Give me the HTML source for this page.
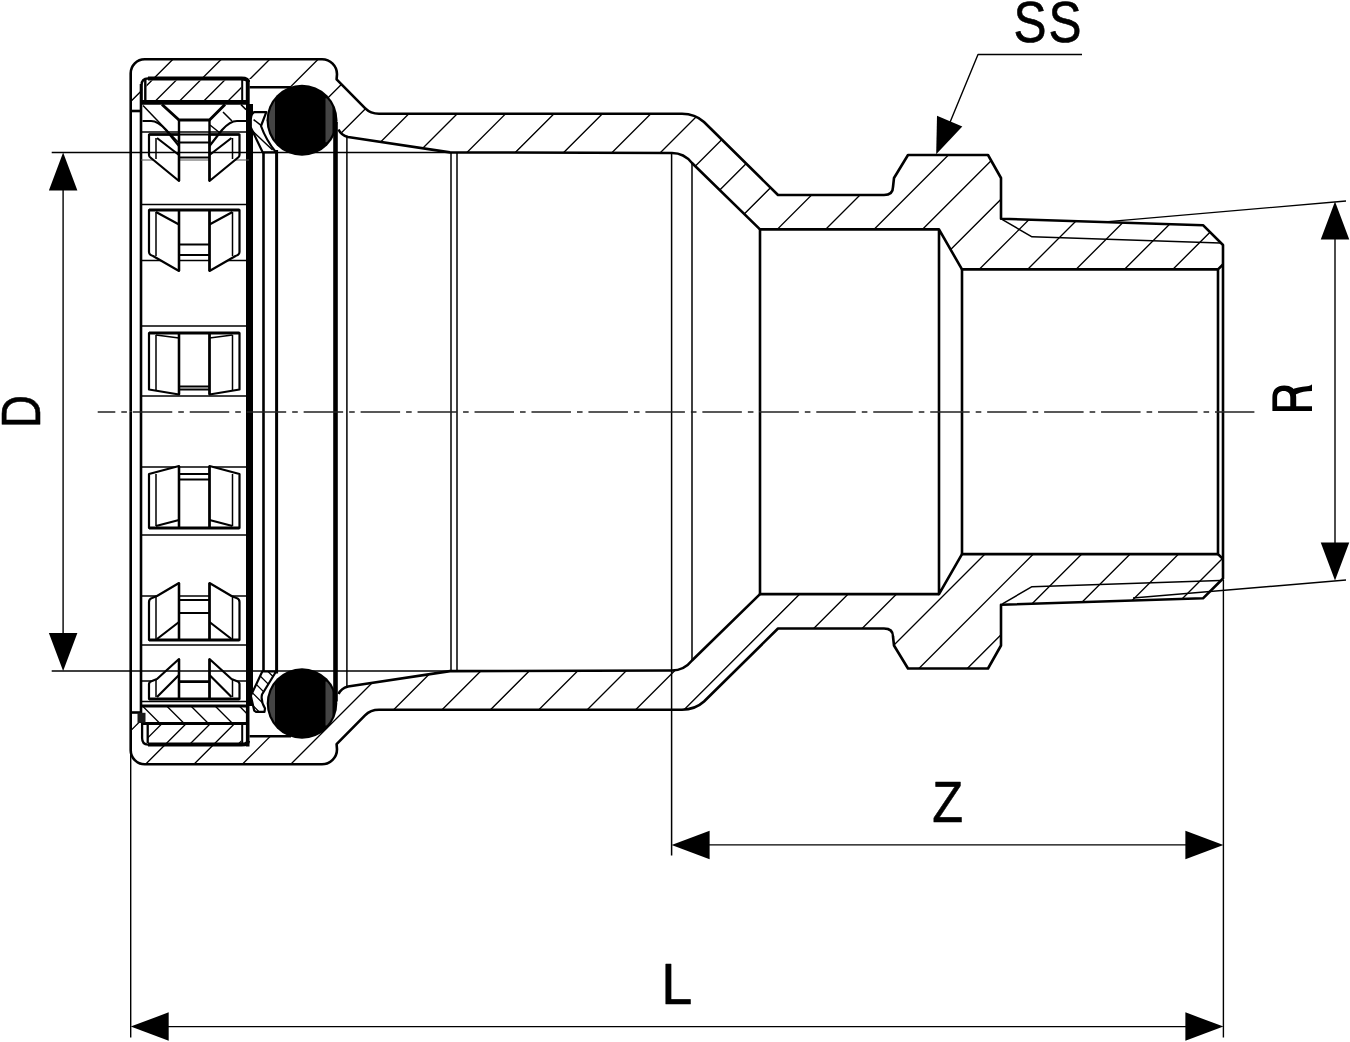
<!DOCTYPE html><html><head><meta charset="utf-8"><style>html,body{margin:0;padding:0;background:#fff;width:1350px;height:1042px;overflow:hidden}text{font-family:"Liberation Sans",sans-serif}</style></head><body><svg width="1350" height="1042" viewBox="0 0 1350 1042" style="display:block" stroke="#000" stroke-linecap="butt" stroke-linejoin="round"><defs><clipPath id="c1"><path d="M130.7 111 L130.7 73.2 A14 14 0 0 1 144.7 59.2 L322 59.2 A15 15 0 0 1 337 74.2 L336.6 79.3 L365 108.2 Q370.5 113.8 379 113.8 L682 113.8 Q695 113.8 704 122 L778 195 L884 195 Q893 195 893 187 L894 178 L908 155 L988 155 L1001 178 L1001 218.7 L1203 225.2 L1223 245 L1223 264.5 L1218 269.4 L962 269.4 L939 229.4 L760 229.4 L692 163 Q684 153 672 153 L450 152.4 L348 137 Q341 135 338.5 129.5 L337 120 L291 87.3 L252 87.3 L252 79 L148 78 L142.5 84 L141 111 Z"/></clipPath><clipPath id="c2"><path d="M130.7 712.5 L130.7 750.3 A14 14 0 0 0 144.7 764.3 L322 764.3 A15 15 0 0 0 337 749.3 L336.6 744.2 L365 715.3 Q370.5 709.7 379 709.7 L682 709.7 Q695 709.7 704 701.5 L778 628.5 L884 628.5 Q893 628.5 893 636.5 L894 645.5 L908 668.5 L988 668.5 L1001 645.5 L1001 604.8 L1203 598.3 L1223 578.5 L1223 559.0 L1218 554.1 L962 554.1 L939 594.1 L760 594.1 L692 660.5 Q684 670.5 672 670.5 L450 671.1 L348 686.5 Q341 688.5 338.5 694.0 L337 703.5 L291 736.2 L252 736.2 L252 744.5 L148 745.5 L142.5 739.5 L141 712.5 Z"/></clipPath><clipPath id="c3"><path d="M146.6 100 L146.6 80.5 L241.3 80.5 L241.3 100 Z"/></clipPath><clipPath id="oc120"><circle cx="302" cy="120.3" r="33.3"/></clipPath><clipPath id="oc703"><circle cx="302" cy="703.5" r="33.099999999999994"/></clipPath><clipPath id="c4"><path d="M262.3 671.5 L276.1 671.5 L262 694.5 Q260.5 701 265 708.4 L264.5 711.8 L256 711.8 L254.2 710.6 L250.8 695.7 Z"/></clipPath><clipPath id="c5"><path d="M141 706 L247 706 L247 723.5 L141 723.5 Z"/></clipPath><clipPath id="c6"><path d="M147.7 725 L241.3 725 L241.3 743 L147.7 743 Z"/></clipPath></defs><rect width="1350" height="1042" fill="#fff" stroke="none"/><path clip-path="url(#c1)" d="M95.40 40L-654.60 790M143.80 40L-606.20 790M192.20 40L-557.80 790M240.60 40L-509.40 790M289.00 40L-461.00 790M337.40 40L-412.60 790M385.80 40L-364.20 790M434.20 40L-315.80 790M482.60 40L-267.40 790M531.00 40L-219.00 790M579.40 40L-170.60 790M627.80 40L-122.20 790M676.20 40L-73.80 790M724.60 40L-25.40 790M773.00 40L23.00 790M821.40 40L71.40 790M869.80 40L119.80 790M918.20 40L168.20 790M966.60 40L216.60 790M1015.00 40L265.00 790M1063.40 40L313.40 790M1111.80 40L361.80 790M1160.20 40L410.20 790M1208.60 40L458.60 790M1257.00 40L507.00 790M1305.40 40L555.40 790M1353.80 40L603.80 790M1402.20 40L652.20 790M1450.60 40L700.60 790M1499.00 40L749.00 790M1547.40 40L797.40 790M1595.80 40L845.80 790M1644.20 40L894.20 790M1692.60 40L942.60 790M1741.00 40L991.00 790M1789.40 40L1039.40 790M1837.80 40L1087.80 790M1886.20 40L1136.20 790M1934.60 40L1184.60 790M1983.00 40L1233.00 790M2031.40 40L1281.40 790" stroke-width="1.35" fill="none"/>
<path clip-path="url(#c2)" d="M95.40 40L-654.60 790M143.80 40L-606.20 790M192.20 40L-557.80 790M240.60 40L-509.40 790M289.00 40L-461.00 790M337.40 40L-412.60 790M385.80 40L-364.20 790M434.20 40L-315.80 790M482.60 40L-267.40 790M531.00 40L-219.00 790M579.40 40L-170.60 790M627.80 40L-122.20 790M676.20 40L-73.80 790M724.60 40L-25.40 790M773.00 40L23.00 790M821.40 40L71.40 790M869.80 40L119.80 790M918.20 40L168.20 790M966.60 40L216.60 790M1015.00 40L265.00 790M1063.40 40L313.40 790M1111.80 40L361.80 790M1160.20 40L410.20 790M1208.60 40L458.60 790M1257.00 40L507.00 790M1305.40 40L555.40 790M1353.80 40L603.80 790M1402.20 40L652.20 790M1450.60 40L700.60 790M1499.00 40L749.00 790M1547.40 40L797.40 790M1595.80 40L845.80 790M1644.20 40L894.20 790M1692.60 40L942.60 790M1741.00 40L991.00 790M1789.40 40L1039.40 790M1837.80 40L1087.80 790M1886.20 40L1136.20 790M1934.60 40L1184.60 790M1983.00 40L1233.00 790M2031.40 40L1281.40 790" stroke-width="1.35" fill="none"/>
<path d="M130.7 411.75 L130.7 73.2 A14 14 0 0 1 144.7 59.2 L322 59.2 A15 15 0 0 1 337 74.2 L336.6 79.3 L365 108.2 Q370.5 113.8 379 113.8 L682 113.8 Q695 113.8 704 122 L778 195 L884 195 Q893 195 893 187 L894 178 L908 155 L988 155 L1001 178 L1001 218.7 L1203 225.2 L1223 245 L1223 411.75" stroke-width="2.6" fill="none" />
<path d="M1218 411.75 L1218 269.4 L1223 264.5" stroke-width="2.6" fill="none" />
<path d="M962 411.75 L962 269.4 L1218 269.4" stroke-width="2.6" fill="none" />
<path d="M939 411.75 L939 229.4 L962 269.4" stroke-width="2.6" fill="none" />
<path d="M760 411.75 L760 229.4 L939 229.4" stroke-width="2.6" fill="none" />
<path d="M760 229.4 L692 163 Q684 153 672 153 L450 152.4 L348 137 Q341 135 338.5 129.5" stroke-width="2.6" fill="none" />
<path d="M249.5 87.3 L291 87.3" stroke-width="2.6" fill="none" />
<path d="M130.7 111 L141 111" stroke-width="2.6" fill="none" />
<path d="M1002.4 219.7 L1032 236.8 L1220 243" stroke-width="1.5" fill="none" />
<path d="M130.7 411.75 L130.7 750.3 A14 14 0 0 0 144.7 764.3 L322 764.3 A15 15 0 0 0 337 749.3 L336.6 744.2 L365 715.3 Q370.5 709.7 379 709.7 L682 709.7 Q695 709.7 704 701.5 L778 628.5 L884 628.5 Q893 628.5 893 636.5 L894 645.5 L908 668.5 L988 668.5 L1001 645.5 L1001 604.8 L1203 598.3 L1223 578.5 L1223 411.75" stroke-width="2.6" fill="none" />
<path d="M1218 411.75 L1218 554.1 L1223 559.0" stroke-width="2.6" fill="none" />
<path d="M962 411.75 L962 554.1 L1218 554.1" stroke-width="2.6" fill="none" />
<path d="M939 411.75 L939 594.1 L962 554.1" stroke-width="2.6" fill="none" />
<path d="M760 411.75 L760 594.1 L939 594.1" stroke-width="2.6" fill="none" />
<path d="M760 594.1 L692 660.5 Q684 670.5 672 670.5 L450 671.1 L348 686.5 Q341 688.5 338.5 694.0" stroke-width="2.6" fill="none" />
<path d="M249.5 736.2 L291 736.2" stroke-width="2.6" fill="none" />
<path d="M130.7 712.5 L141 712.5" stroke-width="2.6" fill="none" />
<path d="M1002.4 603.8 L1032 586.7 L1220 580.5" stroke-width="1.5" fill="none" />
<line x1="451" y1="152.4" x2="451" y2="671.1" stroke-width="1.5" />
<line x1="457" y1="152.4" x2="457" y2="671.1" stroke-width="1.5" />
<line x1="692" y1="163" x2="692" y2="660.5" stroke-width="1.5" />
<line x1="671.6" y1="153" x2="671.6" y2="855.6" stroke-width="1.5" />
<line x1="346.9" y1="137" x2="346.9" y2="686.5" stroke-width="1.5" />
<line x1="335.5" y1="122" x2="335.5" y2="701.5" stroke-width="4.6" />
<line x1="263.5" y1="150" x2="263.5" y2="673.5" stroke-width="2.6" />
<line x1="276.6" y1="150" x2="276.6" y2="673.5" stroke-width="3.0" />
<rect x="246" y="104" width="7" height="602" fill="#000" stroke="none"/>
<rect x="245.8" y="80" width="3.9" height="24" fill="#000" stroke="none"/>
<rect x="245.9" y="706" width="3.6" height="40.5" fill="#000" stroke="none"/>
<line x1="141" y1="84" x2="141" y2="723" stroke-width="2.6" />
<path clip-path="url(#c3)" d="M119.60 40L-630.40 790M143.80 40L-606.20 790M168.00 40L-582.00 790M192.20 40L-557.80 790M216.40 40L-533.60 790M240.60 40L-509.40 790M264.80 40L-485.20 790M289.00 40L-461.00 790M313.20 40L-436.80 790M337.40 40L-412.60 790M361.60 40L-388.40 790M385.80 40L-364.20 790M410.00 40L-340.00 790M434.20 40L-315.80 790M458.40 40L-291.60 790M482.60 40L-267.40 790M506.80 40L-243.20 790M531.00 40L-219.00 790M555.20 40L-194.80 790M579.40 40L-170.60 790M603.60 40L-146.40 790M627.80 40L-122.20 790M652.00 40L-98.00 790M676.20 40L-73.80 790M700.40 40L-49.60 790M724.60 40L-25.40 790M748.80 40L-1.20 790M773.00 40L23.00 790M797.20 40L47.20 790M821.40 40L71.40 790M845.60 40L95.60 790M869.80 40L119.80 790M894.00 40L144.00 790M918.20 40L168.20 790M942.40 40L192.40 790M966.60 40L216.60 790M990.80 40L240.80 790M1015.00 40L265.00 790M1039.20 40L289.20 790M1063.40 40L313.40 790M1087.60 40L337.60 790M1111.80 40L361.80 790M1136.00 40L386.00 790M1160.20 40L410.20 790M1184.40 40L434.40 790M1208.60 40L458.60 790M1232.80 40L482.80 790M1257.00 40L507.00 790M1281.20 40L531.20 790M1305.40 40L555.40 790M1329.60 40L579.60 790M1353.80 40L603.80 790M1378.00 40L628.00 790M1402.20 40L652.20 790M1426.40 40L676.40 790M1450.60 40L700.60 790M1474.80 40L724.80 790M1499.00 40L749.00 790M1523.20 40L773.20 790M1547.40 40L797.40 790M1571.60 40L821.60 790M1595.80 40L845.80 790M1620.00 40L870.00 790M1644.20 40L894.20 790M1668.40 40L918.40 790M1692.60 40L942.60 790M1716.80 40L966.80 790M1741.00 40L991.00 790M1765.20 40L1015.20 790M1789.40 40L1039.40 790M1813.60 40L1063.60 790M1837.80 40L1087.80 790M1862.00 40L1112.00 790M1886.20 40L1136.20 790M1910.40 40L1160.40 790M1934.60 40L1184.60 790M1958.80 40L1208.80 790M1983.00 40L1233.00 790M2007.20 40L1257.20 790" stroke-width="1.35" fill="none"/>
<path d="M141 102.3 L248 102.3" stroke-width="4.7" fill="none" />
<path d="M148 78.5 L241.5 78.5 Q248 78.5 248 82" stroke-width="4.0" fill="none" />
<path d="M141.6 104 L141.6 85 Q141.6 78.5 148 78.5" stroke-width="2.3" fill="none" />
<line x1="145.3" y1="80" x2="145.3" y2="100" stroke-width="2.4" />
<line x1="242.2" y1="80" x2="242.2" y2="100" stroke-width="2.0" />
<circle cx="302" cy="120.3" r="35.5" fill="#000" stroke="none"/>
<rect x="268.5" y="98.3" width="6.5" height="44" fill="#444" stroke="none" clip-path="url(#oc120)"/>
<rect x="325.5" y="98.3" width="7" height="44" fill="#444" stroke="none" clip-path="url(#oc120)"/>
<circle cx="302" cy="703.5" r="35.3" fill="#000" stroke="none"/>
<rect x="268.5" y="681.5" width="6.5" height="44" fill="#444" stroke="none" clip-path="url(#oc703)"/>
<rect x="325.5" y="681.5" width="7" height="44" fill="#444" stroke="none" clip-path="url(#oc703)"/>
<path d="M254.2 112.1 L266.3 112.1 L261 126 Q266 140 276.1 152.4 L262.8 152.4 L250.8 127.6 L250.8 119 Q251.5 113 254.2 112.1 Z" stroke-width="2.2" fill="#fff" />
<path d="M252.5 131 L272.6 150" stroke-width="1.5" fill="none" />
<path d="M253.6 119.6 L261 125.3" stroke-width="1.5" fill="none" />
<path d="M262.3 671.5 L276.1 671.5 L262 694.5 Q260.5 701 265 708.4 L264.5 711.8 L256 711.8 L254.2 710.6 L250.8 695.7 Z" fill="#fff" stroke="none"/>
<path clip-path="url(#c4)" d="M-634.10 40L115.90 790M-621.80 40L128.20 790M-609.50 40L140.50 790M-597.20 40L152.80 790M-584.90 40L165.10 790M-572.60 40L177.40 790M-560.30 40L189.70 790M-548.00 40L202.00 790M-535.70 40L214.30 790M-523.40 40L226.60 790M-511.10 40L238.90 790M-498.80 40L251.20 790M-486.50 40L263.50 790M-474.20 40L275.80 790M-461.90 40L288.10 790M-449.60 40L300.40 790M-437.30 40L312.70 790M-425.00 40L325.00 790M-412.70 40L337.30 790M-400.40 40L349.60 790M-388.10 40L361.90 790M-375.80 40L374.20 790M-363.50 40L386.50 790M-351.20 40L398.80 790M-338.90 40L411.10 790M-326.60 40L423.40 790M-314.30 40L435.70 790M-302.00 40L448.00 790M-289.70 40L460.30 790M-277.40 40L472.60 790M-265.10 40L484.90 790M-252.80 40L497.20 790M-240.50 40L509.50 790M-228.20 40L521.80 790M-215.90 40L534.10 790M-203.60 40L546.40 790M-191.30 40L558.70 790M-179.00 40L571.00 790M-166.70 40L583.30 790M-154.40 40L595.60 790M-142.10 40L607.90 790M-129.80 40L620.20 790M-117.50 40L632.50 790M-105.20 40L644.80 790M-92.90 40L657.10 790M-80.60 40L669.40 790M-68.30 40L681.70 790M-56.00 40L694.00 790M-43.70 40L706.30 790M-31.40 40L718.60 790M-19.10 40L730.90 790M-6.80 40L743.20 790M5.50 40L755.50 790M17.80 40L767.80 790M30.10 40L780.10 790M42.40 40L792.40 790M54.70 40L804.70 790M67.00 40L817.00 790M79.30 40L829.30 790M91.60 40L841.60 790M103.90 40L853.90 790M116.20 40L866.20 790M128.50 40L878.50 790M140.80 40L890.80 790M153.10 40L903.10 790M165.40 40L915.40 790M177.70 40L927.70 790M190.00 40L940.00 790M202.30 40L952.30 790M214.60 40L964.60 790M226.90 40L976.90 790M239.20 40L989.20 790M251.50 40L1001.50 790M263.80 40L1013.80 790M276.10 40L1026.10 790M288.40 40L1038.40 790M300.70 40L1050.70 790M313.00 40L1063.00 790M325.30 40L1075.30 790M337.60 40L1087.60 790M349.90 40L1099.90 790M362.20 40L1112.20 790M374.50 40L1124.50 790M386.80 40L1136.80 790M399.10 40L1149.10 790M411.40 40L1161.40 790M423.70 40L1173.70 790M436.00 40L1186.00 790M448.30 40L1198.30 790M460.60 40L1210.60 790M472.90 40L1222.90 790M485.20 40L1235.20 790M497.50 40L1247.50 790M509.80 40L1259.80 790M522.10 40L1272.10 790M534.40 40L1284.40 790M546.70 40L1296.70 790M559.00 40L1309.00 790M571.30 40L1321.30 790M583.60 40L1333.60 790M595.90 40L1345.90 790M608.20 40L1358.20 790M620.50 40L1370.50 790M632.80 40L1382.80 790M645.10 40L1395.10 790M657.40 40L1407.40 790M669.70 40L1419.70 790M682.00 40L1432.00 790M694.30 40L1444.30 790M706.60 40L1456.60 790M718.90 40L1468.90 790M731.20 40L1481.20 790M743.50 40L1493.50 790M755.80 40L1505.80 790M768.10 40L1518.10 790M780.40 40L1530.40 790M792.70 40L1542.70 790M805.00 40L1555.00 790M817.30 40L1567.30 790M829.60 40L1579.60 790M841.90 40L1591.90 790M854.20 40L1604.20 790M866.50 40L1616.50 790M878.80 40L1628.80 790M891.10 40L1641.10 790M903.40 40L1653.40 790M915.70 40L1665.70 790M928.00 40L1678.00 790M940.30 40L1690.30 790M952.60 40L1702.60 790M964.90 40L1714.90 790M977.20 40L1727.20 790M989.50 40L1739.50 790M1001.80 40L1751.80 790M1014.10 40L1764.10 790M1026.40 40L1776.40 790M1038.70 40L1788.70 790M1051.00 40L1801.00 790M1063.30 40L1813.30 790M1075.60 40L1825.60 790M1087.90 40L1837.90 790M1100.20 40L1850.20 790M1112.50 40L1862.50 790M1124.80 40L1874.80 790M1137.10 40L1887.10 790M1149.40 40L1899.40 790M1161.70 40L1911.70 790M1174.00 40L1924.00 790M1186.30 40L1936.30 790M1198.60 40L1948.60 790M1210.90 40L1960.90 790M1223.20 40L1973.20 790M1235.50 40L1985.50 790M1247.80 40L1997.80 790" stroke-width="1.3" fill="none"/>
<path d="M262.3 671.5 L276.1 671.5 L262 694.5 Q260.5 701 265 708.4 L264.5 711.8 L256 711.8 L254.2 710.6 L250.8 695.7 Z" stroke-width="2.2" fill="none" />
<line x1="141" y1="132" x2="249" y2="132" stroke-width="1.5" />
<line x1="141" y1="204.5" x2="249" y2="204.5" stroke-width="1.5" />
<line x1="141" y1="260.5" x2="249" y2="260.5" stroke-width="1.5" />
<line x1="141" y1="326" x2="249" y2="326" stroke-width="1.5" />
<line x1="141" y1="396" x2="249" y2="396" stroke-width="1.5" />
<line x1="141" y1="467" x2="249" y2="467" stroke-width="1.5" />
<line x1="141" y1="535" x2="249" y2="535" stroke-width="1.5" />
<line x1="141" y1="596" x2="249" y2="596" stroke-width="1.5" />
<line x1="141" y1="645" x2="249" y2="645" stroke-width="1.5" />
<line x1="141" y1="681" x2="249" y2="681" stroke-width="1.5" />
<line x1="141" y1="701.5" x2="249" y2="701.5" stroke-width="1.5" />
<line x1="141" y1="160" x2="249" y2="160" stroke-width="1.0" stroke="#555"/>
<path d="M149 134.5 L179 134.5 L179 181 L151 158 Q149 157 149 155 Z" stroke-width="2.2" fill="#fff" />
<path d="M 239.5 134.5 L 209.5 134.5 L 209.5 181 L 237.5 158 Q 239.5 157 239.5 155 Z" stroke-width="2.2" fill="#fff" />
<path d="M156 138 L156 159 M 232.5 138 L 232.5 159" stroke-width="1.5" fill="none" />
<path d="M157 138 L179 155 M 231.5 138 L 209.5 155" stroke-width="2.2" fill="none" />
<path d="M162 104.5 L179 120 L209.5 120 L225 104.5" stroke-width="3.0" fill="none" />
<path d="M179 120 L179 181 M209.5 120 L209.5 181" stroke-width="2.4" fill="none" />
<path d="M149 134.5 L179 134.5 M209.5 134.5 L239.5 134.5" stroke-width="2.6" fill="none" />
<path d="M179 142.5 L209.5 142.5 M179 157.5 L209.5 157.5 M179 134.5 L209.5 134.5" stroke-width="2.0" fill="none" />
<path d="M143 105.5 L178 142" stroke-width="1.5" fill="none" />
<path d="M142.5 121 L151 121 Q158 121 166 130 L179 146 M246 121 L237 121 Q230 121 222 130 L209.5 146" stroke-width="2.2" fill="none" />
<path d="M223 112 L232 121 M210 125 L220 133 M241 104.6 L246 109.6" stroke-width="1.5" fill="none" />
<path d="M149 210 L179 210 L179 271 L153 256 Q149 255 149 252 Z" stroke-width="2.2" fill="#fff" />
<path d="M 239.5 210 L 209.5 210 L 209.5 271 L 235.5 256 Q 239.5 255 239.5 252 Z" stroke-width="2.2" fill="#fff" />
<path d="M156 212 L156 256 M 232.5 212 L 232.5 256" stroke-width="1.5" fill="none" />
<path d="M156 212 L179 224.5 M 232.5 212 L 209.5 224.5" stroke-width="2.2" fill="none" />
<path d="M149 210 L239.5 210" stroke-width="3.0" fill="none" />
<path d="M179 210 L179 271 M209.5 210 L209.5 271" stroke-width="2.4" fill="none" />
<path d="M179 244.5 L209.5 244.5 M179 255 L209.5 255" stroke-width="2.0" fill="none" />
<path d="M149 333 L179 333 L179 394.5 L149 389.5 Z" stroke-width="2.2" fill="#fff" />
<path d="M 239.5 333 L 209.5 333 L 209.5 394.5 L 239.5 389.5 Z" stroke-width="2.2" fill="#fff" />
<path d="M156 335 L156 390 M 232.5 335 L 232.5 390" stroke-width="1.5" fill="none" />
<path d="M156 335 L179 338 M 232.5 335 L 209.5 338" stroke-width="1.5" fill="none" />
<path d="M149 333 L239.5 333" stroke-width="3.0" fill="none" />
<path d="M179 333 L179 394.5 M209.5 333 L209.5 394.5" stroke-width="2.4" fill="none" />
<path d="M179 386.5 L209.5 386.5 M179 389.5 L209.5 389.5" stroke-width="2.0" fill="none" />
<path d="M149 528 L179 528 L179 466 L149 474 Z" stroke-width="2.2" fill="#fff" />
<path d="M 239.5 528 L 209.5 528 L 209.5 466 L 239.5 474 Z" stroke-width="2.2" fill="#fff" />
<path d="M156 474 L156 526 M 232.5 474 L 232.5 526" stroke-width="1.5" fill="none" />
<path d="M156 526 L179 520 M 232.5 526 L 209.5 520" stroke-width="2.2" fill="none" />
<path d="M149 528 L239.5 528" stroke-width="3.0" fill="none" />
<path d="M179 466 L179 528 M209.5 466 L209.5 528" stroke-width="2.4" fill="none" />
<path d="M179 474 L209.5 474 M179 479.5 L209.5 479.5" stroke-width="2.0" fill="none" />
<path d="M149 640 L179 640 L179 583 L157 596 L152 598 Q149 599 149 602 Z" stroke-width="2.2" fill="#fff" />
<path d="M 239.5 640 L 209.5 640 L 209.5 583 L 231.5 596 L 236.5 598 Q 239.5 599 239.5 602 Z" stroke-width="2.2" fill="#fff" />
<path d="M156 597 L156 640 M 232.5 597 L 232.5 640" stroke-width="1.5" fill="none" />
<path d="M157 639 L179 622 M 231.5 639 L 209.5 622" stroke-width="2.2" fill="none" />
<path d="M149 640 L239.5 640" stroke-width="3.0" fill="none" />
<path d="M179 583 L179 640 M209.5 583 L209.5 640" stroke-width="2.4" fill="none" />
<path d="M179 600 L209.5 600 M179 613 L209.5 613" stroke-width="2.0" fill="none" />
<path d="M149 699 L179 699 L179 659 L157 679 L152 681 Q149 682 149 684 Z" stroke-width="2.2" fill="#fff" />
<path d="M 239.5 699 L 209.5 699 L 209.5 659 L 231.5 679 L 236.5 681 Q 239.5 682 239.5 684 Z" stroke-width="2.2" fill="#fff" />
<path d="M156 680 L156 697 M 232.5 680 L 232.5 697" stroke-width="1.5" fill="none" />
<path d="M157 697 L179 675 M 231.5 697 L 209.5 675" stroke-width="2.2" fill="none" />
<path d="M149 699 L239.5 699" stroke-width="3.0" fill="none" />
<path d="M179 659 L179 699 M209.5 659 L209.5 699" stroke-width="2.4" fill="none" />
<path d="M179 682 L209.5 682" stroke-width="2.0" fill="none" />
<path clip-path="url(#c5)" d="M-644.50 40L105.50 790M-620.30 40L129.70 790M-596.10 40L153.90 790M-571.90 40L178.10 790M-547.70 40L202.30 790M-523.50 40L226.50 790M-499.30 40L250.70 790M-475.10 40L274.90 790M-450.90 40L299.10 790M-426.70 40L323.30 790M-402.50 40L347.50 790M-378.30 40L371.70 790M-354.10 40L395.90 790M-329.90 40L420.10 790M-305.70 40L444.30 790M-281.50 40L468.50 790M-257.30 40L492.70 790M-233.10 40L516.90 790M-208.90 40L541.10 790M-184.70 40L565.30 790M-160.50 40L589.50 790M-136.30 40L613.70 790M-112.10 40L637.90 790M-87.90 40L662.10 790M-63.70 40L686.30 790M-39.50 40L710.50 790M-15.30 40L734.70 790M8.90 40L758.90 790M33.10 40L783.10 790M57.30 40L807.30 790M81.50 40L831.50 790M105.70 40L855.70 790M129.90 40L879.90 790M154.10 40L904.10 790M178.30 40L928.30 790M202.50 40L952.50 790M226.70 40L976.70 790M250.90 40L1000.90 790M275.10 40L1025.10 790M299.30 40L1049.30 790M323.50 40L1073.50 790M347.70 40L1097.70 790M371.90 40L1121.90 790M396.10 40L1146.10 790M420.30 40L1170.30 790M444.50 40L1194.50 790M468.70 40L1218.70 790M492.90 40L1242.90 790M517.10 40L1267.10 790M541.30 40L1291.30 790M565.50 40L1315.50 790M589.70 40L1339.70 790M613.90 40L1363.90 790M638.10 40L1388.10 790M662.30 40L1412.30 790M686.50 40L1436.50 790M710.70 40L1460.70 790M734.90 40L1484.90 790M759.10 40L1509.10 790M783.30 40L1533.30 790M807.50 40L1557.50 790M831.70 40L1581.70 790M855.90 40L1605.90 790M880.10 40L1630.10 790M904.30 40L1654.30 790M928.50 40L1678.50 790M952.70 40L1702.70 790M976.90 40L1726.90 790M1001.10 40L1751.10 790M1025.30 40L1775.30 790M1049.50 40L1799.50 790M1073.70 40L1823.70 790M1097.90 40L1847.90 790M1122.10 40L1872.10 790M1146.30 40L1896.30 790M1170.50 40L1920.50 790M1194.70 40L1944.70 790M1218.90 40L1968.90 790M1243.10 40L1993.10 790" stroke-width="1.35" fill="none"/>
<path d="M141 706 L249 706" stroke-width="3.0" fill="none" />
<path clip-path="url(#c6)" d="M119.60 40L-630.40 790M143.80 40L-606.20 790M168.00 40L-582.00 790M192.20 40L-557.80 790M216.40 40L-533.60 790M240.60 40L-509.40 790M264.80 40L-485.20 790M289.00 40L-461.00 790M313.20 40L-436.80 790M337.40 40L-412.60 790M361.60 40L-388.40 790M385.80 40L-364.20 790M410.00 40L-340.00 790M434.20 40L-315.80 790M458.40 40L-291.60 790M482.60 40L-267.40 790M506.80 40L-243.20 790M531.00 40L-219.00 790M555.20 40L-194.80 790M579.40 40L-170.60 790M603.60 40L-146.40 790M627.80 40L-122.20 790M652.00 40L-98.00 790M676.20 40L-73.80 790M700.40 40L-49.60 790M724.60 40L-25.40 790M748.80 40L-1.20 790M773.00 40L23.00 790M797.20 40L47.20 790M821.40 40L71.40 790M845.60 40L95.60 790M869.80 40L119.80 790M894.00 40L144.00 790M918.20 40L168.20 790M942.40 40L192.40 790M966.60 40L216.60 790M990.80 40L240.80 790M1015.00 40L265.00 790M1039.20 40L289.20 790M1063.40 40L313.40 790M1087.60 40L337.60 790M1111.80 40L361.80 790M1136.00 40L386.00 790M1160.20 40L410.20 790M1184.40 40L434.40 790M1208.60 40L458.60 790M1232.80 40L482.80 790M1257.00 40L507.00 790M1281.20 40L531.20 790M1305.40 40L555.40 790M1329.60 40L579.60 790M1353.80 40L603.80 790M1378.00 40L628.00 790M1402.20 40L652.20 790M1426.40 40L676.40 790M1450.60 40L700.60 790M1474.80 40L724.80 790M1499.00 40L749.00 790M1523.20 40L773.20 790M1547.40 40L797.40 790M1571.60 40L821.60 790M1595.80 40L845.80 790M1620.00 40L870.00 790M1644.20 40L894.20 790M1668.40 40L918.40 790M1692.60 40L942.60 790M1716.80 40L966.80 790M1741.00 40L991.00 790M1765.20 40L1015.20 790M1789.40 40L1039.40 790M1813.60 40L1063.60 790M1837.80 40L1087.80 790M1862.00 40L1112.00 790M1886.20 40L1136.20 790M1910.40 40L1160.40 790M1934.60 40L1184.60 790M1958.80 40L1208.80 790M1983.00 40L1233.00 790M2007.20 40L1257.20 790" stroke-width="1.35" fill="none"/>
<path d="M148 744.6 L241.5 744.6 Q248 744.6 248 741" stroke-width="4.0" fill="none" />
<path d="M142 723.4 L248 723.4" stroke-width="3.0" fill="none" />
<path d="M142.1 723 L142.1 738 Q142.1 744.6 148 744.6" stroke-width="2.3" fill="none" />
<line x1="147.7" y1="725" x2="147.7" y2="743" stroke-width="2.3" />
<line x1="242.2" y1="725" x2="242.2" y2="743" stroke-width="2.0" />
<rect x="137.5" y="712.8" width="8" height="10" fill="#1a1a1a" stroke="none"/>
<line x1="97.7" y1="412" x2="1254.4" y2="412" stroke-width="1.4" stroke-dasharray="39.5 6 5.6 5.86" stroke-dashoffset="21.9" stroke="#222"/>
<line x1="51.7" y1="152.5" x2="450" y2="152.5" stroke-width="1.4" />
<line x1="51.7" y1="671" x2="452" y2="671" stroke-width="1.4" />
<line x1="63.1" y1="170" x2="63.1" y2="655" stroke-width="1.4" />
<polygon points="63.1,152.5 48.85,190.5 77.35,190.5" fill="#000" stroke="none"/>
<polygon points="63.1,671 48.85,633 77.35,633" fill="#000" stroke="none"/>
<line x1="1108" y1="221.6" x2="1346" y2="201" stroke-width="1.4" />
<line x1="1133" y1="598" x2="1346" y2="580" stroke-width="1.4" />
<line x1="1335" y1="220" x2="1335" y2="560" stroke-width="1.4" />
<polygon points="1335,201.5 1320.75,239.5 1349.25,239.5" fill="#000" stroke="none"/>
<polygon points="1335,580.5 1320.75,542.5 1349.25,542.5" fill="#000" stroke="none"/>
<line x1="1223.4" y1="580" x2="1223.4" y2="1037.5" stroke-width="1.4" />
<line x1="690" y1="844.9" x2="1205" y2="844.9" stroke-width="1.4" />
<polygon points="671.6,844.9 709.6,830.65 709.6,859.15" fill="#000" stroke="none"/>
<polygon points="1223.4,844.9 1185.4,830.65 1185.4,859.15" fill="#000" stroke="none"/>
<line x1="130.7" y1="751" x2="130.7" y2="1037.5" stroke-width="1.4" />
<line x1="150" y1="1026.6" x2="1205" y2="1026.6" stroke-width="1.4" />
<polygon points="130.7,1026.6 168.7,1012.3499999999999 168.7,1040.85" fill="#000" stroke="none"/>
<polygon points="1223.4,1026.6 1185.4,1012.3499999999999 1185.4,1040.85" fill="#000" stroke="none"/>
<polyline points="1082,54.5 978,54.5 946,132" fill="none" stroke-width="1.4"/>
<polygon points="936.2,154.3 937,115.8 962.3,126.4" fill="#000" stroke="none"/>
<text transform="translate(1013.4,41.9) scale(0.853,1.0)" x="0" y="0" font-size="58" fill="#000" stroke="#000" stroke-width="0.6">S</text>
<text transform="translate(1048.4,41.9) scale(0.853,1.0)" x="0" y="0" font-size="58" fill="#000" stroke="#000" stroke-width="0.6">S</text>
<text transform="translate(932.3,821.8) scale(0.87,1)" x="0" y="0" font-size="58" fill="#000" stroke="#000" stroke-width="0.6">Z</text>
<text transform="translate(661.15,1003.5) scale(0.963,0.99)" x="0" y="0" font-size="58" fill="#000" stroke="#000" stroke-width="0.6">L</text>
<text transform="translate(40.0,427.95) rotate(-90) scale(0.789,0.955)" x="0" y="0" font-size="58" fill="#000" stroke="#000" stroke-width="0.6">D</text>
<path d="M1272.4 410.9 L1312 410.9 L1312 406.3 L1296.2 406.3 L1296.2 397 C1296.2 388.5 1291 385.4 1284.2 385.4 C1276.8 385.4 1272.4 389.2 1272.4 397.5 Z M1277.1 406.3 L1277.1 397.8 C1277.1 393.3 1279.6 391.1 1283.7 391.1 C1287.8 391.1 1290.3 393.3 1290.3 397.8 L1290.3 406.3 Z" fill="#000" fill-rule="evenodd" stroke="none"/>
<path d="M1291 390.2 C1295 387.6 1301 386.6 1307 386.2 C1309.5 386 1311 385.2 1312 384.3 L1312 391 C1306 391.2 1301 391.6 1296.2 394.2 L1294 396 Z" fill="#000" stroke="none"/></svg></body></html>
